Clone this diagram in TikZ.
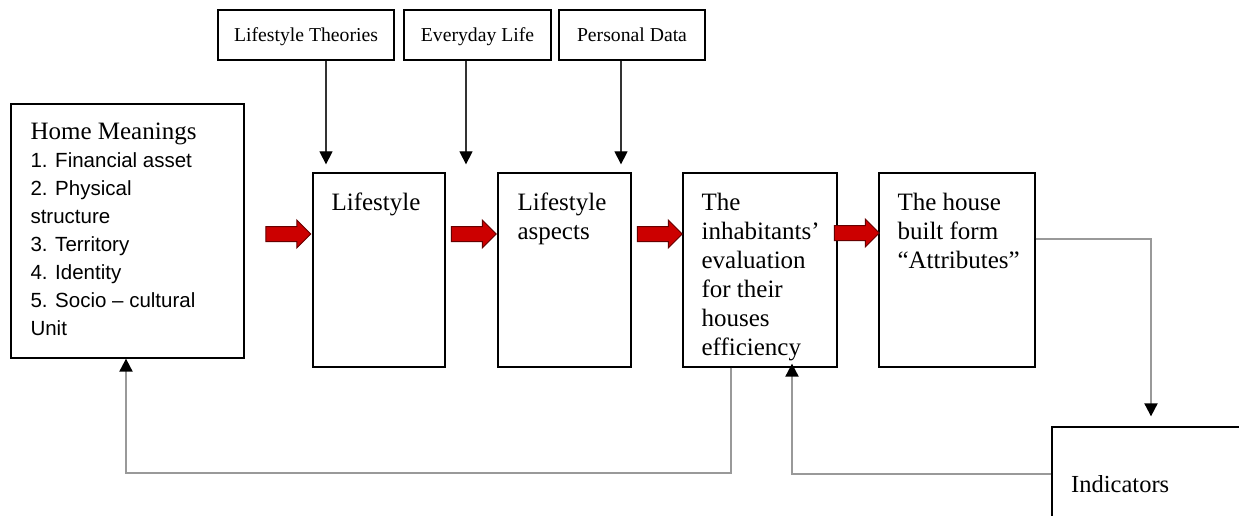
\documentclass[tikz,border=0pt]{standalone}
\usepackage{fontspec}
\setmainfont{Liberation Serif}
\newfontfamily\comicfont{Liberation Sans}
\usetikzlibrary{arrows.meta,shapes.arrows,calc}
\begin{document}
\begin{tikzpicture}[x=1pt,y=1pt,
  box/.style={draw=black,line width=1.3pt,fill=white,inner sep=0pt},
  toptext/.style={font=\fontsize{19.7}{24}\selectfont,text height=16pt,text depth=2pt},
  bodytext/.style={font=\fontsize{25}{29}\selectfont,align=left,anchor=north west,inner sep=0pt},
  feed/.style={draw=black!40,line width=2pt,-{Triangle[black,width=13pt,length=13pt]}},
  downarrow/.style={draw=black!80,line width=1.3pt,-{Triangle[black,width=13pt,length=13pt]}},
  redarrow/.style={single arrow,draw=black!60!red,fill=red!80!black,line width=1pt,minimum height=45pt,
    text height=7pt,text depth=7pt,text width=0pt,single arrow head extend=6.5pt,inner sep=0pt}]
\useasboundingbox (0,0) rectangle (1239,515);
\clip (0,0) rectangle (1239,515);
\fill[white] (0,0) rectangle (1239,515);

% boxes
\node[box,minimum width=233pt,minimum height=254pt] (home) at (127.5,284) {};
\node[box,minimum width=176pt,minimum height=50pt,toptext] (lt) at (306,480) {Lifestyle Theories};
\node[box,minimum width=147pt,minimum height=50pt,toptext] (el) at (477.5,480) {Everyday Life};
\node[box,minimum width=146pt,minimum height=50pt,toptext] (pd) at (632,480) {Personal Data};
\node[box,minimum width=132pt,minimum height=194pt] (ls) at (379,245) {};
\node[box,minimum width=133pt,minimum height=194pt] (la) at (564.5,245) {};
\node[box,minimum width=154pt,minimum height=194pt] (ev) at (760,245) {};
\node[box,minimum width=156pt,minimum height=194pt] (hb) at (957,245) {};
\node[box,minimum width=250pt,minimum height=150pt] (ind) at (1177,13) {};

% texts
\node[bodytext,font=\comicfont\fontsize{20.5}{28}\selectfont] (homet) at ($(home.north west)+(20,-19.5)$)
  {{\rmfamily\fontsize{25}{28}\selectfont Home Meanings}\\
   1. Financial asset\\ 2. Physical\\ structure\\ 3. Territory\\ 4. Identity\\ 5. Socio – cultural\\ Unit};
\node[bodytext] (lst) at ($(ls.north west)+(19,-20)$) {Lifestyle};
\node[bodytext] (lat) at ($(la.north west)+(20,-20)$) {Lifestyle\\ aspects};
\node[bodytext] (evt) at ($(ev.north west)+(19,-20.5)$) {The\\ inhabitants'\\ evaluation\\ for their\\ houses\\ efficiency};
\node[bodytext] (hbt) at ($(hb.north west)+(19,-20.5)$) {The house\\ built form\\ ``Attributes''};
\node[font=\fontsize{24.5}{29}\selectfont,anchor=base west,inner sep=0pt] (indt) at (1071,23) {Indicators};

% red block arrows
\node[redarrow] (r1) at (284.5,281) {};
\node[redarrow] (r2) at (470,281) {};
\node[redarrow] (r3) at (656,281) {};
\node[redarrow] (r4) at (853,282) {};

% top arrows
\coordinate (a1) at (326,0);
\coordinate (a2) at (466,0);
\coordinate (a3) at (621,0);
\draw[downarrow] (lt.south -| a1) -- ($(ls.north -| a1)+(0,8)$);
\draw[downarrow] (el.south -| a2) -- ($(la.north -| a2)+(0,8)$);
\draw[downarrow] (pd.south -| a3) -- ($(ev.north -| a3)+(0,8)$);

% feedback connectors
\coordinate (c1) at (1151,276);
\coordinate (c2) at (792,41);
\coordinate (c3) at (731,42);
\coordinate (c4) at (126,42);
\draw[feed] (hb.east |- c1) -| ($(ind.north -| c1)+(0,10)$);
\draw[feed] (ind.west |- c2) -| ($(ev.south -| c2)+(0,4)$);
\draw[feed] (ev.south -| c3) |- (c4) -- (home.south -| c4);
\end{tikzpicture}
\end{document}
